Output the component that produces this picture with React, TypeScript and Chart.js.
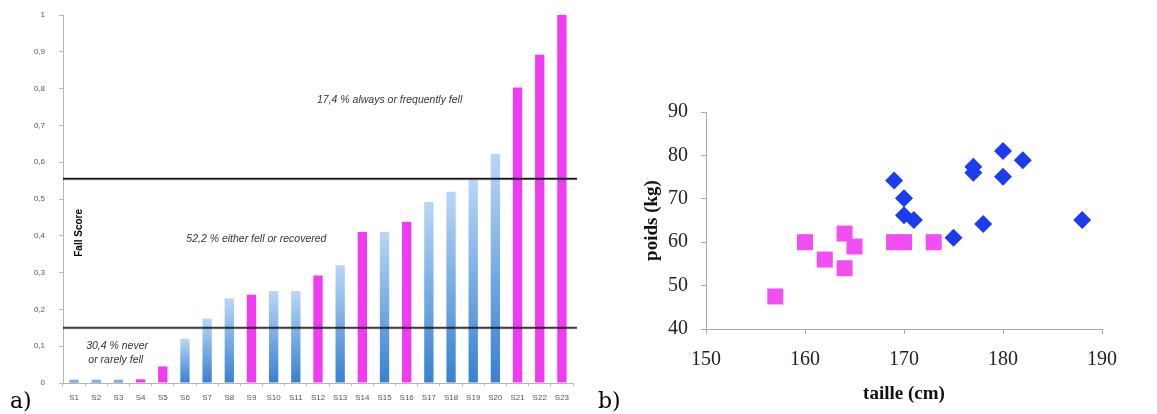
import React, { useEffect, useRef } from 'react';
import { Chart, registerables } from 'chart.js';

Chart.register(...registerables);

// ---------- Panel a) data ----------
const subjects = ['S1', 'S2', 'S3', 'S4', 'S5', 'S6', 'S7', 'S8', 'S9', 'S10', 'S11', 'S12', 'S13', 'S14', 'S15', 'S16', 'S17', 'S18', 'S19', 'S20', 'S21', 'S22', 'S23'];
const fallScores = [0.01, 0.01, 0.01, 0.01, 0.045, 0.12, 0.175, 0.23, 0.24, 0.25, 0.25, 0.292, 0.32, 0.41, 0.41, 0.438, 0.492, 0.52, 0.552, 0.622, 0.803, 0.892, 1.0];
const fellGroup = [false, false, false, true, true, false, false, false, true, false, false, true, false, true, false, true, false, false, false, false, true, true, true];
const thresholdValues = [0.15, 0.555];
const fallAnnotations = [
  { text: '30,4 % never', x: 1.94, y: 0.099 },
  { text: 'or rarely fell', x: 1.88, y: 0.063 },
  { text: '52,2 % either fell or recovered', x: 8.22, y: 0.392 },
  { text: '17,4 % always or frequently fell', x: 14.23, y: 0.769 },
];
const fallAxisTitle = 'Fall Score';

// ---------- Panel b) data ----------
const womenHeights = [157, 160, 162, 164, 164, 165, 169, 170, 173];
const womenWeights = [47.5, 60, 56, 62, 54, 59, 60, 60, 60];
const menHeights = [169, 170, 170, 171, 175, 177, 177, 178, 180, 180, 182, 188];
const menWeights = [74.2, 70.1, 66.2, 65.1, 61, 77.4, 76, 64.2, 81, 75.1, 78.9, 65.1];

const MAGENTA_BAR = '#f03cf0';
const MAGENTA_PT = '#f24ef2';
const BLUE_PT = '#1c3cf0';

const panelLabelPlugin = (label: string) => ({
  id: 'panelLabel_' + label.replace(')', ''),
  afterDraw(chart: any) {
    const c = chart.ctx;
    c.save();
    c.font = '22px "DejaVu Serif", serif';
    c.fillStyle = '#000';
    c.textAlign = 'left';
    c.textBaseline = 'alphabetic';
    c.fillText(label, label === 'a)' ? 10 : 8, 408);
    c.restore();
  },
});

const fallDecorPlugin = {
  id: 'fallDecor',
  afterDatasetsDraw(chart: any) {
    const { ctx: c, chartArea, scales } = chart;
    c.save();
    // threshold lines
    thresholdValues.forEach((v) => {
      const y = scales.y.getPixelForValue(v);
      c.strokeStyle = 'rgba(0,0,0,0.25)';
      c.lineWidth = 3;
      c.beginPath();
      c.moveTo(chartArea.left, y);
      c.lineTo(chartArea.right + 4, y);
      c.stroke();
      c.strokeStyle = '#111';
      c.lineWidth = 1.3;
      c.beginPath();
      c.moveTo(chartArea.left, y);
      c.lineTo(chartArea.right + 4, y);
      c.stroke();
    });
    // annotations
    c.font = 'italic 10.5px "Liberation Sans", sans-serif';
    c.fillStyle = '#333';
    c.textAlign = 'center';
    c.textBaseline = 'middle';
    fallAnnotations.forEach((a) => {
      const x = scales.x.getPixelForValue(a.x);
      const y = scales.y.getPixelForValue(a.y);
      c.fillText(a.text, x, y);
    });
    // axis title inside the plot
    c.save();
    c.translate(scales.x.getPixelForValue(0.22), scales.y.getPixelForValue(0.408));
    c.rotate(-Math.PI / 2);
    c.font = 'bold 10px "Liberation Sans", sans-serif';
    c.fillStyle = '#000';
    c.fillText(fallAxisTitle, 0, 0);
    c.restore();
    c.restore();
  },
};

function FallChart() {
  const ref = useRef<HTMLCanvasElement>(null);
  useEffect(() => {
    if (!ref.current) return;
    const chart = new Chart(ref.current, {
      type: 'bar',
      data: {
        labels: subjects,
        datasets: [
          {
            data: fallScores,
            backgroundColor: (ctx: any) => {
              const i = ctx.dataIndex;
              if (fellGroup[i]) return MAGENTA_BAR;
              const ch = ctx.chart;
              const { chartArea, scales } = ch;
              if (!chartArea || !scales.y) return '#6aa6e4';
              const top = scales.y.getPixelForValue(fallScores[i]);
              const bottom = scales.y.getPixelForValue(0);
              const g = ch.ctx.createLinearGradient(0, top, 0, bottom);
              g.addColorStop(0, '#b9d7f7');
              g.addColorStop(1, '#3681d0');
              return g;
            },
            barPercentage: 0.42,
            categoryPercentage: 1,
            borderWidth: 0,
          },
        ],
      },
      options: {
        responsive: false,
        animation: false,
        layout: { padding: { top: 15, right: 17, bottom: 0, left: 0 } },
        plugins: { legend: { display: false }, tooltip: { enabled: false } },
        scales: {
          x: {
            grid: { display: true, drawOnChartArea: false, offset: true, tickLength: 3, color: '#b5b5b5' },
            border: { color: '#b5b5b5' },
            ticks: { color: '#555', font: { size: 8, family: '"Liberation Sans", sans-serif' }, padding: 7, maxRotation: 0, autoSkip: false },
            afterFit: (s: any) => { s.height = 31; },
          },
          y: {
            min: 0,
            max: 1,
            grid: { display: true, drawOnChartArea: false, tickLength: 4, color: '#b5b5b5' },
            border: { color: '#b5b5b5' },
            ticks: {
              stepSize: 0.1,
              color: '#555',
              padding: 14,
              font: { size: 8, family: '"Liberation Sans", sans-serif' },
              callback: (v: any) => {
                const n = Number(v);
                if (n === 0 || n === 1) return String(n);
                return n.toFixed(1).replace('.', ',');
              },
            },
            afterFit: (s: any) => { s.width = 63; s.paddingTop = 0; s.paddingBottom = 0; },
          },
        },
      },
      plugins: [fallDecorPlugin, panelLabelPlugin('a)')],
    } as any);
    return () => chart.destroy();
  }, []);
  return <canvas ref={ref} width={590} height={414} style={{ position: 'absolute', left: 0, top: 0 }} />;
}

function ScatterChart() {
  const ref = useRef<HTMLCanvasElement>(null);
  useEffect(() => {
    if (!ref.current) return;
    const serif = '"Liberation Serif", serif';
    const chart = new Chart(ref.current, {
      type: 'scatter',
      data: {
        datasets: [
          {
            data: womenHeights.map((h, i) => ({ x: h, y: womenWeights[i] })),
            backgroundColor: MAGENTA_PT,
            borderColor: MAGENTA_PT,
            borderWidth: 0,
            pointStyle: 'rect',
            pointRadius: 11.3,
          },
          {
            data: menHeights.map((h, i) => ({ x: h, y: menWeights[i] })),
            backgroundColor: BLUE_PT,
            borderColor: BLUE_PT,
            borderWidth: 0,
            pointStyle: 'rectRot',
            pointRadius: 9,
          },
        ],
      },
      options: {
        responsive: false,
        animation: false,
        layout: { padding: { top: 112, right: 55, bottom: 0, left: 0 } },
        plugins: { legend: { display: false }, tooltip: { enabled: false } },
        scales: {
          x: {
            type: 'linear',
            min: 150,
            max: 190,
            grid: { display: true, drawOnChartArea: false, tickLength: 5, color: '#aaa' },
            border: { color: '#aaa' },
            ticks: { stepSize: 10, color: '#222', padding: 14, font: { size: 20, family: serif } },
            title: { display: true, text: 'taille (cm)', color: '#111', font: { size: 19, weight: 'bold', family: serif }, padding: { top: 0, bottom: 9 } },
            afterFit: (s: any) => { s.height = 85; },
          },
          y: {
            min: 40,
            max: 90,
            grid: { display: true, drawOnChartArea: false, tickLength: 5, color: '#aaa' },
            border: { color: '#aaa' },
            ticks: { stepSize: 10, color: '#222', padding: 13, font: { size: 20, family: serif } },
            title: { display: true, text: 'poids (kg)', color: '#111', font: { size: 19, weight: 'bold', family: serif }, padding: { top: 51, bottom: 0 } },
            afterFit: (s: any) => { s.width = 116; },
          },
        },
      },
      plugins: [panelLabelPlugin('b)')],
    } as any);
    return () => chart.destroy();
  }, []);
  return <canvas ref={ref} width={567} height={414} style={{ position: 'absolute', left: 590, top: 0 }} />;
}

export default function App() {
  return (
    <div style={{ position: 'absolute', left: 0, top: 0, width: 1157, height: 414, background: '#fff', overflow: 'hidden' }}>
      <FallChart />
      <ScatterChart />
    </div>
  );
}
